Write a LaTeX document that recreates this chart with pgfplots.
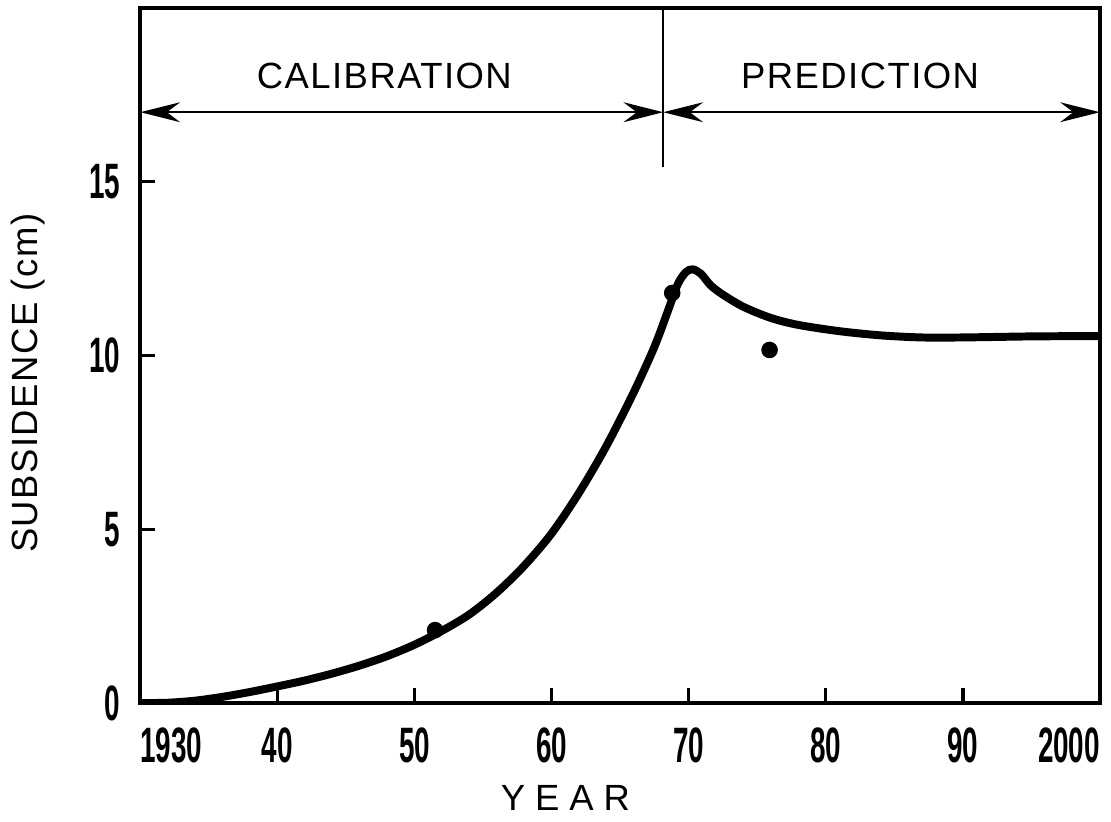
\documentclass[border=0pt]{standalone}
\usepackage{fontspec}
\setmainfont{Liberation Sans}[LetterSpace=4]
\newfontfamily\tickfont[FakeStretch=0.56]{Liberation Sans}
\usepackage{pgfplots}
\pgfplotsset{compat=1.18}
\usetikzlibrary{arrows.meta}

\begin{document}
\begin{tikzpicture}
\begin{axis}[
  scale only axis,
  width=289.5pt, height=209.7pt,
  xmin=1930, xmax=2000, ymin=0, ymax=20,
  axis line style={line width=1.2pt},
  tick style={line width=1pt, black},
  tick align=inside,
  major tick length=4.5pt,
  xtick pos=bottom, ytick pos=left,
  xtick={1930,1940,...,2000},
  xticklabels={\rlap{1930},40,50,60,70,80,90,\llap{2000}},
  ytick={0,5,10,15},
  yticklabels={0,5,10,15},
  tick label style={font=\tickfont\bfseries\fontsize{15}{17}\selectfont},
  xticklabel style={yshift=-4pt},
  yticklabel style={xshift=-2.5pt},
  label style={font=\fontsize{11}{13}\selectfont},
  xlabel={Y\hspace{3pt}E\hspace{3pt}A\hspace{3pt}R},
  xlabel style={at={(axis description cs:0.443,-0.136)}, anchor=center},
  ylabel={SUBSIDENCE (cm)},
  ylabel style={at={(axis description cs:-0.117,0.46)}, anchor=center},
]
% model curve
\addplot[black, line width=2.4pt, smooth, tension=0.5] coordinates {
  (1930,0) (1932,0.01) (1934,0.07) (1936,0.18) (1938,0.32) (1940,0.48)
  (1942,0.65) (1944,0.85) (1946,1.08) (1948,1.35) (1950,1.68) (1952,2.08)
  (1954,2.55) (1956,3.18) (1958,3.95) (1960,4.88) (1962,6.05) (1964,7.4)
  (1966,8.95) (1967.5,10.25) (1968.5,11.3) (1969.2,12.05) (1969.8,12.4)
  (1970.3,12.48) (1970.9,12.35) (1971.6,12.02) (1972.5,11.75) (1974,11.4)
  (1976,11.08) (1978,10.88) (1981,10.7) (1984,10.58) (1987,10.52)
  (1990,10.52) (1995,10.55) (2000,10.56)
};
% observed
\addplot[black, only marks, mark=*, mark size=2.3pt] coordinates {
  (1951.5,2.1) (1968.8,11.8) (1975.9,10.16)
};
\draw[line width=0.6pt] (axis cs:1968.15,20) -- (axis cs:1968.15,15.43);
\draw[line width=0.6pt, {Stealth[length=12pt,width=6pt,inset=4pt]}-{Stealth[length=12pt,width=6pt,inset=4pt]}]
  (axis cs:1930,17) -- (axis cs:1968.15,17);
\draw[line width=0.6pt, {Stealth[length=12pt,width=6pt,inset=4pt]}-{Stealth[length=12pt,width=6pt,inset=4pt]}]
  (axis cs:1968.15,17) -- (axis cs:2000,17);
\node[font=\fontsize{11}{13}\selectfont] at (axis cs:1947.8,18.04) {CALIBRATION};
\node[font=\fontsize{11}{13}\selectfont] at (axis cs:1982.5,18.04) {PREDICTION};
\end{axis}
\path (current axis.south west) ++(-41.1pt,-32.4pt);
\path (current axis.north east) ++(2.7pt,2.4pt);
\end{tikzpicture}
\end{document}
